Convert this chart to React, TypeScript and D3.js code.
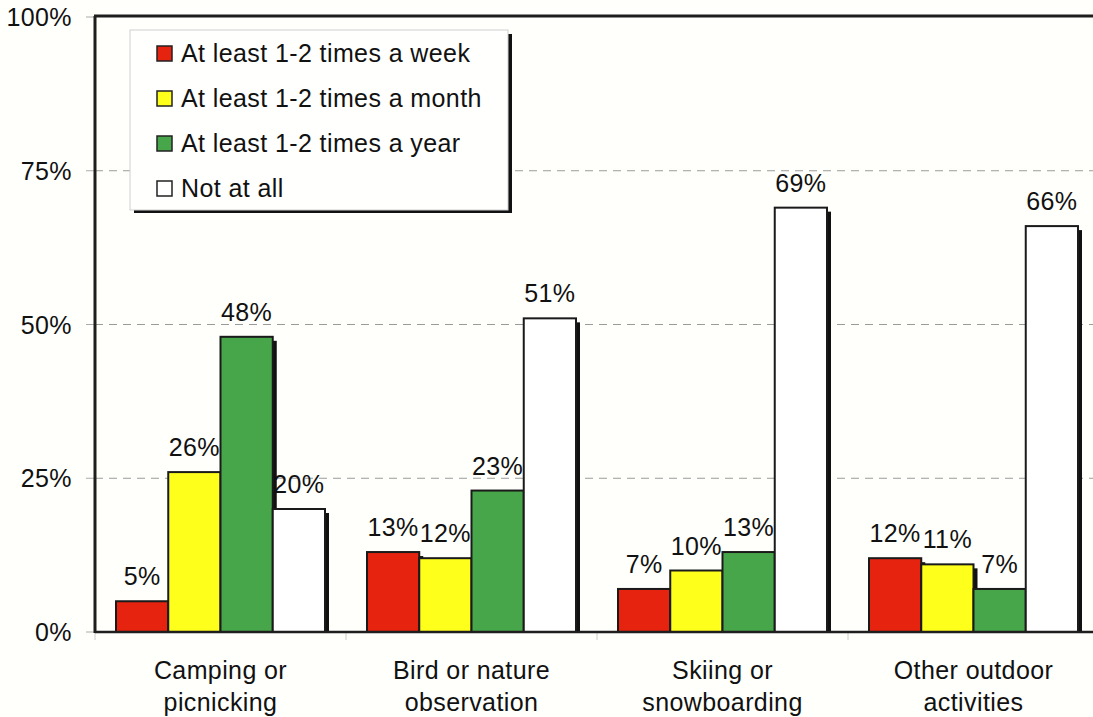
import React, { useEffect } from 'react';
import * as d3 from 'd3';

// categories (two-line labels) and series
const categories = ['Camping or picnicking', 'Bird or nature observation', 'Skiing or snowboarding', 'Other outdoor activities'];
const categoryLines = [
  ['Camping or', 'picnicking'],
  ['Bird or nature', 'observation'],
  ['Skiing or', 'snowboarding'],
  ['Other outdoor', 'activities'],
];
const seriesNames = ['At least 1-2 times a week', 'At least 1-2 times a month', 'At least 1-2 times a year', 'Not at all'];
const seriesColors = ['#e5230f', '#ffff1c', '#48a64a', '#ffffff'];

const weekly = [5, 13, 7, 12];
const monthly = [26, 12, 10, 11];
const yearly = [48, 23, 13, 7];
const notAtAll = [20, 51, 69, 66];
const seriesValues = [weekly, monthly, yearly, notAtAll];

const yTicks = [0, 25, 50, 75, 100];

const W = 1093;
const H = 717;
const FONT = 'Arial, "Liberation Sans", Helvetica, sans-serif';

export default function App() {
  useEffect(() => {
    document.body.style.margin = '0';
  }, []);

  const left = 95;
  const top = 17;
  const bottom = 632;
  const right = 1099;

  const y = d3.scaleLinear().domain([0, 100]).range([bottom, top]);
  const x0 = d3.scaleBand<string>().domain(categories).range([left, right]).padding(0);
  const groupPad = 21;
  const x1 = d3.scaleBand<string>().domain(seriesNames).range([groupPad, x0.bandwidth() - groupPad]).padding(0);

  const textStyle = { fontFamily: FONT, fontSize: 25, letterSpacing: 0.4, fill: '#111' } as const;

  return (
    <svg width={W} height={H} style={{ display: 'block', background: '#fffffc' }}>
      {/* grid lines */}
      {yTicks.filter(t => t > 0 && t < 100).map(t => (
        <line key={'g' + t} x1={left} x2={W} y1={y(t)} y2={y(t)} stroke="#9a9a9a" strokeWidth={1} strokeDasharray="8,6" />
      ))}
      {/* tick marks and labels */}
      {yTicks.map(t => (
        <g key={'t' + t}>
          <line x1={left - 9} x2={left} y1={y(t)} y2={y(t)} stroke="#aaa" strokeWidth={1} />
          <text x={72} y={y(t)} dy="0.36em" textAnchor="end" {...textStyle}>{t}%</text>
        </g>
      ))}
      {categories.map((c, i) => (
        <line key={'ct' + i} x1={(x0(c) ?? 0)} x2={(x0(c) ?? 0)} y1={bottom} y2={bottom + 8} stroke="#ccc" strokeWidth={1} />
      ))}

      {/* bars with drop shadow */}
      {categories.map((c, ci) => (
        <g key={c} transform={`translate(${x0(c)},0)`}>
          {seriesNames.map((s, si) => {
            const v = seriesValues[si][ci];
            const bx = x1(s) ?? 0;
            const bw = x1.bandwidth();
            return (
              <rect key={'sh' + s} x={bx + 4} y={y(v) + 4} width={bw} height={bottom - y(v) - 4} fill="#111" />
            );
          })}
          {seriesNames.map((s, si) => {
            const v = seriesValues[si][ci];
            const bx = x1(s) ?? 0;
            const bw = x1.bandwidth();
            return (
              <g key={s}>
                <rect x={bx} y={y(v)} width={bw} height={bottom - y(v)} fill={seriesColors[si]} stroke="#1a1a1a" strokeWidth={2} />
                <text x={bx + bw / 2} y={y(v) - 16} textAnchor="middle" {...textStyle}>{v}%</text>
              </g>
            );
          })}
          {categoryLines[ci].map((line, li) => (
            <text key={li} x={x0.bandwidth() / 2} y={679 + li * 32} textAnchor="middle" {...textStyle}>{line}</text>
          ))}
        </g>
      ))}

      {/* frame */}
      <line x1={left} x2={left} y1={top - 1} y2={bottom + 1} stroke="#1e1e1e" strokeWidth={3} />
      <line x1={left - 1} x2={W} y1={top - 1} y2={top - 1} stroke="#1e1e1e" strokeWidth={3} />
      <line x1={left} x2={W} y1={bottom} y2={bottom} stroke="#1e1e1e" strokeWidth={2.5} />

      {/* legend */}
      <g>
        <rect x={134} y={34} width={378} height={179} fill="#111" />
        <rect x={130} y={30} width={378} height={180} fill="#fffffe" stroke="#cfcfcf" strokeWidth={1} />
        {seriesNames.map((s, i) => (
          <g key={'l' + s} transform={`translate(157,${46 + i * 45})`}>
            <rect x={0} y={0} width={15} height={15} fill={seriesColors[i]} stroke="#222" strokeWidth={1.5} />
            <text x={24} y={16} {...textStyle}>{s}</text>
          </g>
        ))}
      </g>
    </svg>
  );
}
